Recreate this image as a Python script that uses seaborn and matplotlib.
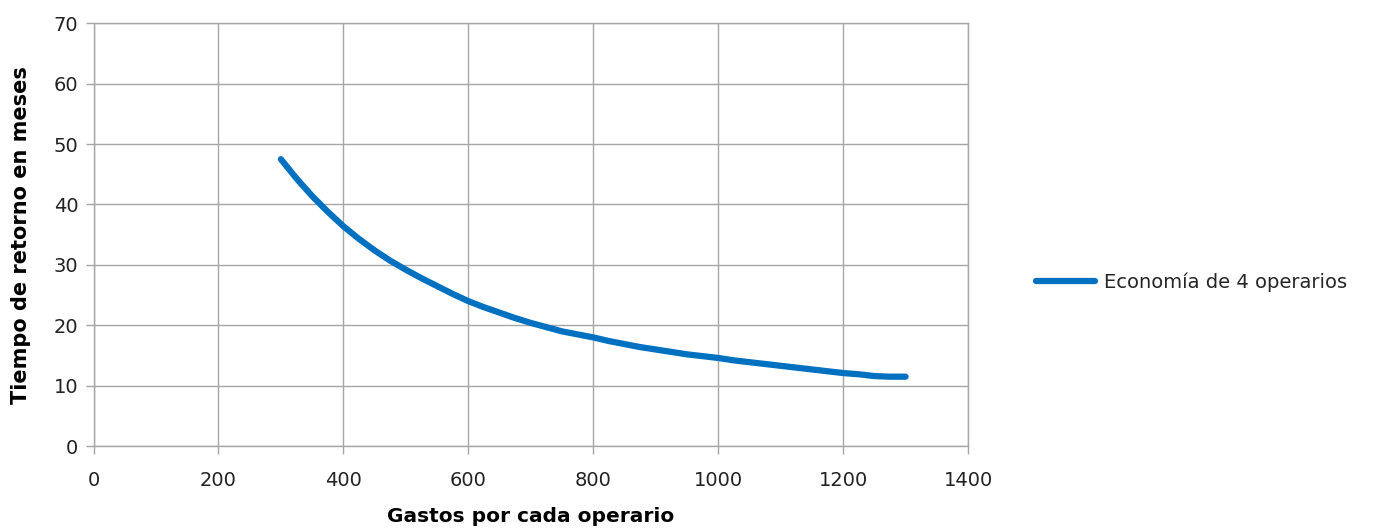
import pandas as pd
import matplotlib
matplotlib.use("Agg")
import matplotlib.pyplot as plt
import seaborn as sns

# values
gastos = [300, 325, 350, 375, 400, 425, 450, 475, 500, 525, 550, 575, 600,
          625, 650, 675, 700, 725, 750, 775, 800, 825, 850, 875, 900, 925,
          950, 975, 1000, 1025, 1050, 1075, 1100, 1125, 1150, 1175, 1200,
          1225, 1250, 1275, 1300]
meses = [47.5, 44.3, 41.4, 38.8, 36.4, 34.3, 32.4, 30.7, 29.2, 27.8, 26.5,
         25.2, 24.0, 23.0, 22.1, 21.2, 20.4, 19.7, 19.0, 18.5, 18.0, 17.4,
         16.9, 16.4, 16.0, 15.6, 15.2, 14.9, 14.6, 14.2, 13.9, 13.6, 13.3,
         13.0, 12.7, 12.4, 12.1, 11.9, 11.6, 11.5, 11.5]
serie = "Economía de 4 operarios"
x_ticks = [0, 200, 400, 600, 800, 1000, 1200, 1400]
y_ticks = [0, 10, 20, 30, 40, 50, 60, 70]

df = pd.DataFrame({"gastos": gastos, "meses": meses, "serie": serie})

sns.set_style("white")
plt.rcParams["font.family"] = ["DejaVu Sans"]

fig = plt.figure(figsize=(13.75, 5.28), dpi=100)
ax = fig.add_axes([0.068, 0.155, 0.636, 0.801])

grid_col = "#a6a6a6"

sns.lineplot(
    data=df,
    x="gastos",
    y="meses",
    hue="serie",
    palette=["#0070c0"],
    linewidth=4.5,
    ax=ax
)

ax.set_xlim(0, 1400)
ax.set_ylim(0, 70)
ax.set_xticks(x_ticks)
ax.set_yticks(y_ticks)
ax.grid(True, color=grid_col, linewidth=1)
ax.set_axisbelow(True)

for side in ["left", "bottom", "top", "right"]:
    ax.spines[side].set_visible(True)
    ax.spines[side].set_color(grid_col)
    ax.spines[side].set_linewidth(1)

ax.tick_params(axis="both", labelsize=14, color=grid_col,
               labelcolor="#222222", length=6, width=1, direction="out",
               bottom=True, left=True)
ax.tick_params(axis="x", pad=12)
ax.tick_params(axis="y", pad=5)

ax.set_xlabel("Gastos por cada operario", fontsize=14.5, fontweight="bold",
              color="black", labelpad=12)
ax.set_ylabel("Tiempo de retorno en meses", fontsize=15, fontweight="bold",
              color="black", labelpad=16)

ax.legend(
    loc="center left",
    bbox_to_anchor=(0.741, 0.465),
    bbox_transform=fig.transFigure,
    frameon=False,
    fontsize=14,
    handlelength=3.0,
    handletextpad=0.5,
    title=None
)

fig.savefig("out.png", dpi=100)
